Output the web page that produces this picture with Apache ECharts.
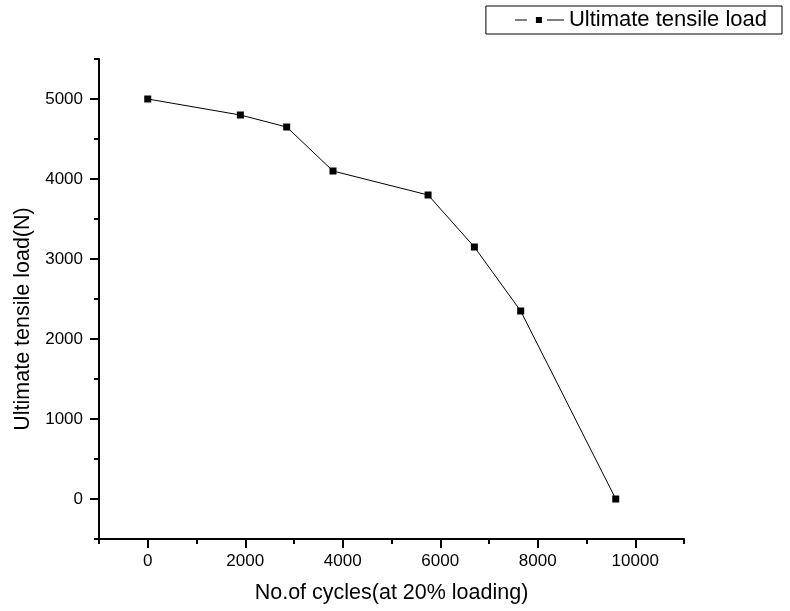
<!DOCTYPE html>
<html>
<head>
<meta charset="utf-8">
<script src="https://cdn.jsdelivr.net/npm/echarts@6/dist/echarts.min.js"></script>
<style>
  html, body { margin: 0; padding: 0; background: #fff; }
  #chart { width: 790px; height: 611px; }
</style>
</head>
<body>
<div id="chart"></div>
<script>
// values
const cycles = [0, 1900, 2850, 3800, 5750, 6700, 7650, 9600];
const tensileLoad = [5000, 4800, 4650, 4100, 3800, 3150, 2350, 0];
const xMajorTicks = [0, 2000, 4000, 6000, 8000, 10000];
const yMajorTicks = [0, 1000, 2000, 3000, 4000, 5000];

const font = "Arial, 'Liberation Sans', sans-serif";
let myChart = echarts.init(document.getElementById("chart"), null, { renderer: "canvas" });

let points = cycles.map(function (c, i) {
  return [c, tensileLoad[i]];
});

let baseLine = { show: true, onZero: false, lineStyle: { color: "#000", width: 2 } };
let plain = function (v) {
  return String(v);
};

// dash - square - dash, like the origin-style legend key
const legendKey = "path://M0,6.5h12v1h-12z M21,4h6v6h-6z M32,6.5h17v1h-17z";

let option = {
  animation: false,
  backgroundColor: "#fff",
  textStyle: { fontFamily: font, color: "#000" },
  legend: {
    right: 8,
    top: 6,
    borderColor: "#000",
    borderWidth: 1,
    borderRadius: 0,
    padding: [3, 15, 3, 29],
    itemWidth: 49,
    itemHeight: 14,
    icon: legendKey,
    textStyle: { fontFamily: font, fontSize: 22, color: "#000" },
    data: ["Ultimate tensile load"],
  },
  grid: { left: 99, right: 106, top: 59, bottom: 72 },
  xAxis: [
    {
      type: "value",
      min: -1000,
      max: 11000,
      name: "No.of cycles(at 20% loading)",
      nameLocation: "middle",
      nameGap: 43,
      nameTextStyle: { fontFamily: font, fontSize: 21.5, color: "#000" },
      axisLine: baseLine,
      axisTick: { show: true, length: 9, lineStyle: { color: "#000", width: 2 }, customValues: xMajorTicks },
      axisLabel: { fontSize: 17, color: "#000", margin: 14, customValues: xMajorTicks, formatter: plain },
      splitLine: { show: false },
    },
    {
      // minor ticks every 1000
      type: "value",
      position: "bottom",
      min: -1000,
      max: 11000,
      interval: 1000,
      axisLine: { show: false, onZero: false },
      axisTick: { show: true, length: 5, lineStyle: { color: "#000", width: 2 } },
      axisLabel: { show: false },
      splitLine: { show: false },
    },
  ],
  yAxis: [
    {
      type: "value",
      min: -500,
      max: 5500,
      name: "Ultimate tensile load(N)",
      nameLocation: "middle",
      nameGap: 63,
      nameTextStyle: { fontFamily: font, fontSize: 21.5, color: "#000", padding: [0, 40, 0, 0] },
      axisLine: baseLine,
      axisTick: { show: true, length: 9, lineStyle: { color: "#000", width: 2 }, customValues: yMajorTicks },
      axisLabel: { fontSize: 17, color: "#000", margin: 16, customValues: yMajorTicks, formatter: plain },
      splitLine: { show: false },
    },
    {
      // minor ticks every 500
      type: "value",
      position: "left",
      min: -500,
      max: 5500,
      interval: 500,
      axisLine: { show: false, onZero: false },
      axisTick: { show: true, length: 5, lineStyle: { color: "#000", width: 2 } },
      axisLabel: { show: false },
      splitLine: { show: false },
    },
  ],
  series: [
    {
      name: "Ultimate tensile load",
      type: "line",
      xAxisIndex: 0,
      yAxisIndex: 0,
      symbol: "rect",
      symbolSize: 7,
      showAllSymbol: true,
      lineStyle: { color: "#000", width: 1 },
      itemStyle: { color: "#000" },
      data: points,
    },
  ],
};

myChart.setOption(option);
</script>
</body>
</html>
